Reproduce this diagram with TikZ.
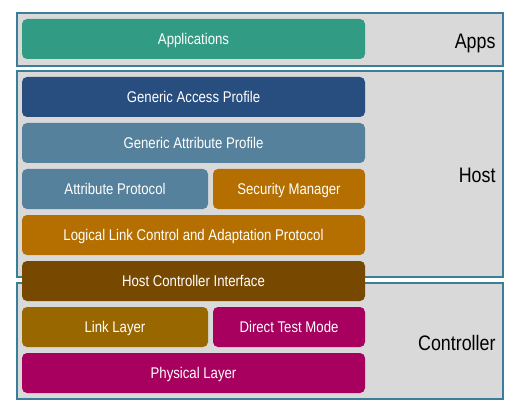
\documentclass[tikz,border=0pt]{standalone}
\usepackage{fontspec}
\setmainfont{Liberation Sans}[FakeStretch=0.85]
\usepackage{tikz}

\definecolor{framecol}{HTML}{3A7E9A}
\definecolor{framefill}{HTML}{D9D9D9}
\definecolor{appcol}{HTML}{329B84}
\definecolor{gapcol}{HTML}{284E80}
\definecolor{gattcol}{HTML}{56819C}
\definecolor{l2capcol}{HTML}{B46F00}
\definecolor{hcicol}{HTML}{774900}
\definecolor{llcol}{HTML}{986700}
\definecolor{phycol}{HTML}{A8005E}

\tikzset{
every picture/.style={
line width=1pt
},
frame/.style={draw=framecol, line width=2pt, fill=framefill, minimum width=486pt, inner sep=0pt, outer sep=0pt},
layer/.style={rounded corners=5pt, text=white, minimum height=40pt, inner sep=0pt, outer sep=0pt, text height=12pt, text depth=1pt, font=\fontsize{15.5}{17}\selectfont},
full/.style={layer, minimum width=343pt},
half/.style={layer, minimum width=186pt},
small/.style={layer, minimum width=152pt},
side/.style={anchor=east, text height=15pt, text depth=4pt, inner sep=0pt, font=\fontsize{21}{23}\selectfont}
}

\begin{document}
\begin{tikzpicture}[x=1pt, y=-1pt]
  \useasboundingbox (0,0) rectangle (525,417);

  \node (apps) [frame, minimum height=53pt] at (260, 39.5) {};
  \node (host) [frame, minimum height=206pt] at (260, 174) {};
  \node (ctrl) [frame, minimum height=116pt] at (260, 341) {};

  \node (appsl) [side] at (496, 43) {Apps};
  \node (hostl) [side] at (496, 177) {Host};
  \node (ctrll) [side] at (496, 345) {Controller};

  \node (app) [full, fill=appcol] at (193.5, 39) {Applications};
  \node (gap) [full, fill=gapcol] at (193.5, 97) {Generic Access Profile};
  \node (gatt) [full, fill=gattcol] at (193.5, 143) {Generic Attribute Profile};
  \node (att) [half, fill=gattcol] at (115, 189) {Attribute Protocol};
  \node (sm) [small, fill=l2capcol] at (289, 189) {Security Manager};
  \node (l2cap) [full, fill=l2capcol] at (193.5, 235) {Logical Link Control and Adaptation Protocol};
  \node (hci) [full, fill=hcicol] at (193.5, 281) {Host Controller Interface};
  \node (ll) [half, fill=llcol] at (115, 327) {Link Layer};
  \node (dtm) [small, fill=phycol] at (289, 327) {Direct Test Mode};
  \node (phy) [full, fill=phycol] at (193.5, 373) {Physical Layer};

\end{tikzpicture}
\end{document}
